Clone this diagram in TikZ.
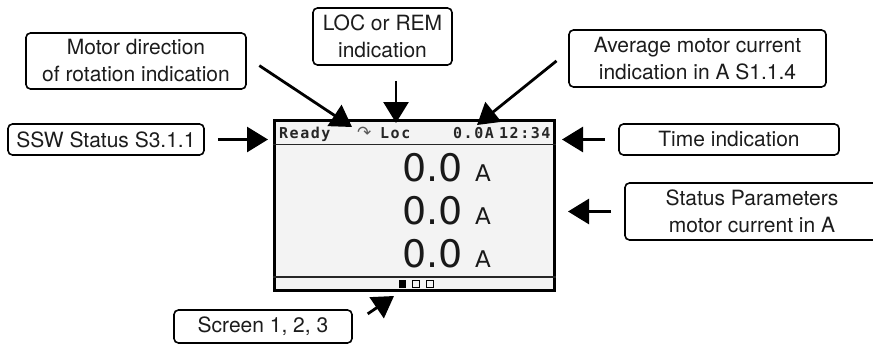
\documentclass[tikz,border=0pt]{standalone}
\usepackage{fontspec}
\setmainfont{TeX Gyre Heros}
\newfontfamily\lcdfont{DejaVu Sans}
\newfontfamily\lcdmono[LetterSpace=10]{DejaVu Sans Mono}
\usetikzlibrary{arrows.meta}
\definecolor{lcdbg}{HTML}{F3F3F3}
\definecolor{ink}{HTML}{1C1C1C}
\tikzset{
  callout/.style={draw=black,line width=1.6pt,rounded corners=4.5pt,fill=white,inner sep=0pt,
    align=center,text=ink,font=\fontsize{21}{27}\selectfont},
  pointer/.style={draw=black,line width=2.8pt,-{Triangle[length=21pt,width=25pt]}},
  headtext/.style={inner sep=0pt,font=\lcdmono\bfseries\fontsize{15}{15}\selectfont,text=black!85,anchor=base west},
  bigval/.style={inner sep=0pt,font=\lcdfont\fontsize{38}{38}\selectfont,text=black!90,anchor=base west},
  unitval/.style={inner sep=0pt,font=\lcdfont\fontsize{23}{23}\selectfont,text=black!90,anchor=base west},
  pagemark/.style={draw=black,line width=1.3pt,minimum size=6.5pt,inner sep=0pt},
}
\begin{document}
\begin{tikzpicture}[x=1pt,y=-1pt]
\path[use as bounding box,clip] (0,0) rectangle (873,345);
% display
\node[draw=black,line width=3.6pt,fill=lcdbg,minimum width=280pt,minimum height=170pt,inner sep=0pt] (lcd) at (414.5,205.5) {};
\draw[line width=1.1pt,draw=black!85] (lcd.west |- 0,144.5) -- (lcd.east |- 0,144.5);
\draw[line width=1.1pt,draw=black!85] (lcd.west |- 0,277) -- (lcd.east |- 0,277);
% header texts
\node[headtext] (ready) at (279,138.5) {Ready};
\node[inner sep=0pt,anchor=base west,font=\lcdfont\fontsize{17}{17}\selectfont,text=black!65] (rot) at (357,138.5) {↷};
\node[headtext] (loc) at (380,138.5) {Loc};
\node[headtext] (cur) at (453,138.5) {0.0A};
\node[headtext] (clock) at (499,138.5) {12:34};
% values
\node[bigval] (v1) at (402,181) {0.0};
\node[unitval] (u1) at (475,181) {A};
\node[bigval] (v2) at (402,224) {0.0};
\node[unitval] (u2) at (475,224) {A};
\node[bigval] (v3) at (402,267) {0.0};
\node[unitval] (u3) at (475,267) {A};
% page marks
\node[pagemark,fill=black] (p1) at (402.5,284) {};
\node[pagemark] (p2) at (416,284) {};
\node[pagemark] (p3) at (430,284) {};
% callouts
\node[callout,minimum width=220pt,minimum height=56pt] (motor) at (136,61) {Motor direction\\of rotation indication};
\node[callout,minimum width=139pt,minimum height=57pt] (locrem) at (382.5,36.5) {LOC or REM\\indication};
\node[callout,minimum width=257pt,minimum height=57pt] (avg) at (697.5,58.5) {Average motor current\\indication in A S1.1.4};
\node[callout,minimum width=196pt,minimum height=31pt] (ssw) at (106,139.5) {SSW Status S3.1.1};
\node[callout,minimum width=220pt,minimum height=31pt] (timeb) at (729,139.5) {Time indication};
\node[callout,minimum width=254pt,minimum height=57pt] (status) at (752,211.5) {Status Parameters\\motor current in A};
\node[callout,minimum width=178pt,minimum height=33pt] (screen) at (263,326.5) {Screen 1, 2, 3};
% targets
\coordinate (tmotor) at (352,127);
\coordinate (tloc) at (396,123);
\coordinate (tavg) at (477,125);
\coordinate (tssw) at (268,139.5);
\coordinate (ttime) at (562,139.5);
\coordinate (tstatus) at (568,211.5);
\coordinate (tscreen) at (394,296);
% connectors
\draw[pointer,shorten <=15pt] ([yshift=3.7pt]motor.east) -- (tmotor);
\draw[pointer,shorten <=15pt] ([xshift=13.5pt]locrem.south) -- (tloc);
\draw[pointer,shorten <=15pt] ([yshift=7pt]avg.west) -- (tavg);
\draw[pointer,shorten <=13pt] (ssw.east) -- (tssw);
\draw[pointer,shorten <=13pt] (timeb.west) -- (ttime);
\draw[pointer,shorten <=13pt] (status.west) -- (tstatus);
\draw[pointer,shorten <=18pt] ([yshift=2.5pt]screen.east) -- (tscreen);
\end{tikzpicture}
\end{document}
